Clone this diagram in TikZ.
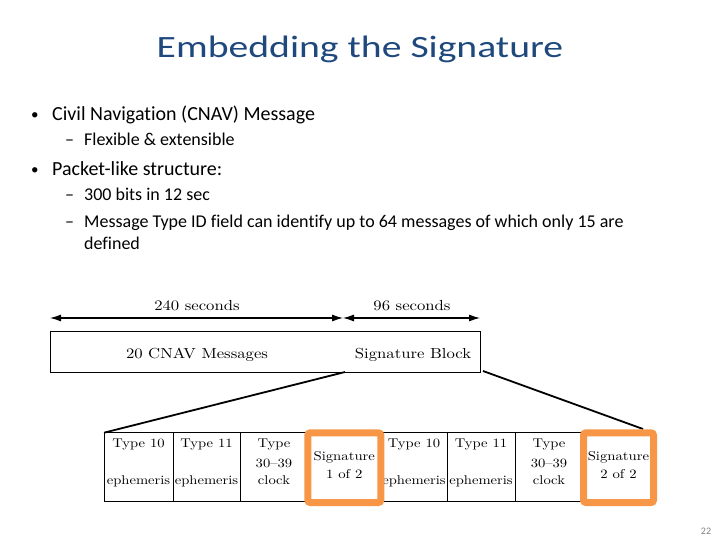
\documentclass[tikz,border=0pt]{standalone}
\usepackage{fontspec}
\newfontfamily\slidefont{Carlito}[Ligatures=NoCommon]
\newfontfamily\titlefont{Carlito}[FakeStretch=1.28]
\newfontfamily\diagfont{lmroman10-regular}[Extension=.otf,FakeStretch=1.15]
\usetikzlibrary{arrows.meta}
\definecolor{titleblue}{HTML}{1F497D}
\definecolor{sigorange}{HTML}{F79646}
\definecolor{pagegray}{HTML}{808080}
\begin{document}
\begin{tikzpicture}[x=1pt,y=-1pt,
  titletext/.style={inner sep=0pt,anchor=base,text=titleblue,font=\titlefont\fontsize{31}{36}\selectfont},
  bullettext/.style={inner sep=0pt,anchor=base west,font=\slidefont\fontsize{20}{24}\selectfont},
  bulletdot/.style={inner sep=0pt,anchor=base west,font=\slidefont\fontsize{15}{18}\selectfont},
  subtext/.style={inner sep=0pt,anchor=base west,font=\slidefont\fontsize{18}{22}\selectfont},
  toptext/.style={inner sep=0pt,anchor=base,font=\diagfont\fontsize{14.5}{17}\selectfont},
  celltext/.style={inner sep=0pt,anchor=base,font=\diagfont\fontsize{12.7}{15}\selectfont},
  sigtext/.style={inner sep=0pt,anchor=base,font=\diagfont\fontsize{12.8}{14}\selectfont},
  dimarrow/.style={line width=1.1pt,{Latex[length=11pt,width=7pt]}-{Latex[length=11pt,width=7pt]}},
  framebox/.style={draw,line width=0.9pt,inner sep=0pt},
  zoomline/.style={line width=1.8pt},
  sigbox/.style={draw=sigorange,line width=7pt,rounded corners=2.5pt,inner sep=0pt}
]
\useasboundingbox (0,0) rectangle (720,540);

% title
\node[titletext] (title) at (360,58) {Embedding the Signature};

% bullets
\node[bulletdot] (b1dot) at (31,120) {•};
\node[bullettext] (b1) at (52,121) {Civil Navigation (CNAV) Message};
\node[subtext] (s1dash) at (65,146) {–};
\node[subtext] (s1) at (84,146) {Flexible \& extensible};
\node[bulletdot] (b2dot) at (31,175) {•};
\node[bullettext] (b2) at (52,176) {Packet-like structure:};
\node[subtext] (s2dash) at (65,201) {–};
\node[subtext] (s2) at (84,201) {300 bits in 12 sec};
\node[subtext] (s3dash) at (65,227) {–};
\node[subtext] (s3) at (84,227) {Message Type ID field can identify up to 64 messages of which only 15 are};
\node[subtext] (s3b) at (84,249) {defined};

% top timeline
\coordinate (tl) at (50,318);
\coordinate (tm) at (343,318);
\coordinate (tr) at (480,318);
\draw[dimarrow] (tl) -- (tm);
\draw[dimarrow] (tm) -- (tr);
\node[toptext] (l240) at (197,310.5) {240 seconds};
\node[toptext] (l96) at (412,310.5) {96 seconds};

% message box
\node[framebox,minimum width=430pt,minimum height=41pt] (cnav) at (265,351.5) {};
\node[toptext] (msgs) at (197,358) {20 CNAV Messages};
\node[toptext] (sigblk) at (413,358) {Signature Block};

% bottom row frame
\node[framebox,minimum width=549.5pt,minimum height=68.3pt] (row) at (378.75,466.85) {};
\coordinate (d1t) at (173,432.7); \coordinate (d1b) at (173,501);
\coordinate (d2t) at (240,432.7); \coordinate (d2b) at (240,501);
\coordinate (d3t) at (447,432.7); \coordinate (d3b) at (447,501);
\coordinate (d4t) at (515,432.7); \coordinate (d4b) at (515,501);
\draw[line width=0.9pt] (d1t) -- (d1b) (d2t) -- (d2b) (d3t) -- (d3b) (d4t) -- (d4b);

% zoom lines
\coordinate (zl1) at (345,372);
\coordinate (zl2) at (104,432.7);
\coordinate (zr1) at (483,371);
\coordinate (zr2) at (643,429);
\draw[zoomline] (zl1) -- (zl2);
\draw[zoomline] (zr1) -- (zr2);

% cell texts
\node[celltext] (t10a) at (138.5,447) {Type 10};
\node[celltext] (e10a) at (138.5,484) {ephemeris};
\node[celltext] (t11a) at (206.5,447) {Type 11};
\node[celltext] (e11a) at (206.5,484) {ephemeris};
\node[celltext] (t3a) at (274,447) {Type};
\node[celltext] (n3a) at (274,467) {30–39};
\node[celltext] (c3a) at (274,484) {clock};
\node[celltext] (t10b) at (414,447) {Type 10};
\node[celltext] (e10b) at (414,484) {ephemeris};
\node[celltext] (t11b) at (481,447) {Type 11};
\node[celltext] (e11b) at (481,484) {ephemeris};
\node[celltext] (t3b) at (549,447) {Type};
\node[celltext] (n3b) at (549,467) {30–39};
\node[celltext] (c3b) at (549,484) {clock};

% signature boxes
\node[sigbox,minimum width=73pt,minimum height=69.7pt] (sig1) at (344.3,467.65) {};
\node[sigbox,minimum width=70pt,minimum height=69.7pt] (sig2) at (618.5,467.65) {};
\node[sigtext] (sig1a) at (344.3,460.7) {Signature};
\node[sigtext] (sig1b) at (344.3,478.3) {1 of 2};
\node[sigtext] (sig2a) at (618.5,460.7) {Signature};
\node[sigtext] (sig2b) at (618.5,478.3) {2 of 2};

% page number
\node[inner sep=0pt,anchor=base,text=pagegray,font=\slidefont\fontsize{10}{12}\selectfont] (pg) at (706,534) {22};
\end{tikzpicture}
\end{document}
